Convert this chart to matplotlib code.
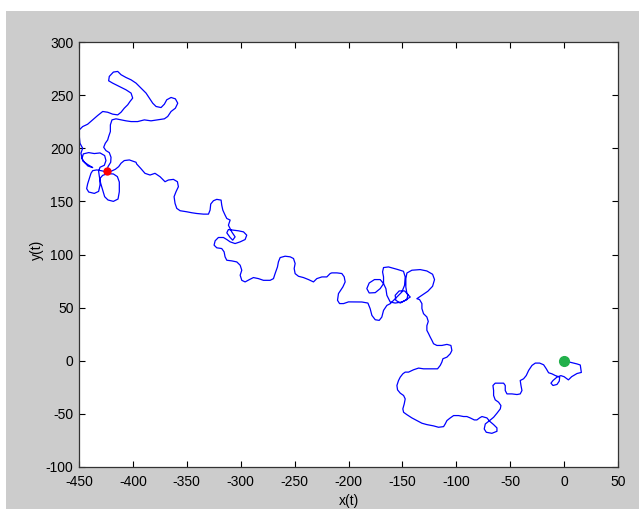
import matplotlib
matplotlib.use("Agg")
import matplotlib.pyplot as plt
from matplotlib.patches import Rectangle

plt.rcParams['font.family'] = ['Liberation Sans', 'DejaVu Sans']
plt.rcParams['axes.unicode_minus'] = False

# random walk trajectory (start = green, end = red)
x_t = [0, 12, 15, 16, 12, 7, 4, 0, -3,
       -6.6, -10.3, -12.2, -10.3, -6.6, -4.5, -4.1, -8.2,
       -11.3, -14.4, -16.5, -19, -22.7, -26.7, -29.8, -32.9, -35.1, -37.6, -40.7, -40, -39.1, -40.7,
       -43.7, -48.4, -53, -54.6, -54.6, -56.1, -60.8, -63.9, -66, -65.4, -65.4, -63.9, -60.8, -58.6,
       -59.2, -62.3, -65.4, -69.1, -73.1, -74.1, -72.2, -67, -62.3, -62.3, -65.4, -69.1, -71.6, -76.2,
       -78.4, -80.9, -83.3, -87.1, -90.2, -93.3, -97.9, -102.5, -105.6, -108.7, -110.3, -111.8, -116.5,
       -121.1, -127.3, -131.9, -136.6, -141.2, -145.9, -148.9, -149.6, -148.3, -147.4, -148.9, -152,
       -154.5, -155.1, -153.6, -152, -149.6, -147.4, -144.3, -139.7, -135, -130.4, -125.7, -121.1,
       -117.4, -114.9, -113.4, -112.4, -108.7, -105.6, -104.1, -105, -108.7, -113.4, -118, -121.1,
       -122.6, -124.2, -125.7, -127.3,
       -127.3, -126, -127.3, -130.4, -131.9, -131.9, -134.1, -136.6,
       -131.9, -126.4, -122, -120.2, -122, -127.3, -133.5, -141.2, -145.8, -146.8, -146.8, -145.8,
       -142.7, -147.4, -152, -156.1, -156.7, -153, -148, -144.9, -145.8, -150.5, -156.7, -161.3,
       -164.4, -165.3, -167.5, -170.6, -175.9, -180.8, -183, -180.8, -175.2, -170.6, -167.5, -167.5,
       -168.4, -167.5, -162.9, -155.1, -149, -147.4, -148, -150.5, -156.7, -161.3, -164.4, -167.5,
       -169.1, -171.5, -175.2, -178.3, -179.9, -182, -187.6, -193.8,
       -200, -204.6, -208.3, -210.2, -209.3, -205.2, -203.1, -204, -206.2, -210.8, -215.5, -217,
       -220.1, -224.7, -229.4, -232.5, -237.1, -241.8, -246.4, -249.5, -250.4, -249.5, -251, -254.1,
       -258.8, -263.4, -265, -265.9, -268.1, -269.6, -272.7, -278.9, -283.5, -288.2, -291.9, -295.9,
       -299, -300.5, -299, -300.5, -303.6, -308.3, -312.9, -314.5, -315.4, -317.6, -322.2, -324.7,
       -323.7, -320.7, -316, -312.9, -309.8, -305.2, -300.5, -295.9, -294.4, -297.4, -302.1, -306.7,
       -311.4, -312.9, -309.8, -307.4, -305.2, -308.3, -311.4, -309.8, -312.9, -314.5, -316.6, -317.6,
       -318.2, -322.2, -325.3, -327.8, -328.4, -329.9, -334.6, -340.8, -345.4, -350, -356.2, -359.3,
       -360.9, -361.8, -360, -357.8, -358.7, -362.4, -367.1, -370.2, -373.3, -374.8,
       -379.5, -384.1, -388.8, -392.8, -396.5,
       -397.1, -403.3, -408, -411, -413.2, -416.3, -420.3, -425.6, -429.6, -433.6, -437.3, -438.9,
       -440.4, -442, -442.9, -441, -435.8, -431.8, -430.5, -430.5, -428, -423.4, -418.1, -414.4,
       -412.6, -412.6, -413.8, -418.1, -423.1, -426.2, -428, -429.9, -431.1, -431.8, -430.5, -426.5,
       -425, -426.2, -430.5, -435.8, -441, -446, -447.2, -444.8, -441.7, -437.3, -441.7, -446.5,
       -448.2, -446.6, -449.1, -449.7, -449.7,
       -446.6, -442, -437.3, -432.7, -428, -423.4, -418.8, -414.1, -411, -408, -404.8, -402.7, -400.2,
       -401.7, -406.4, -412.6, -418.8, -422.5, -421.9, -418.1, -414.1, -411, -406.4, -401.7, -397.1,
       -394, -390.9, -387.8, -384.7, -381.6, -378.5, -373.9, -370.8, -368.6, -364.6, -360.6, -358.4,
       -360.6, -364.6, -367.7, -370.8, -377, -383.2, -389.4, -395.6, -401.7, -406.4, -411, -415.7,
       -419.4, -420.9, -420.9, -422.5, -423.4,
       -425.6, -427.1, -425, -421.9, -420.3, -420.6, -423.1, -424]

y_t = [0, -3, -4, -11, -12, -15, -18, -15, -14,
       -15.4, -18.6, -21.1, -23.3, -22.3, -19.2, -15.4, -13.9,
       -12.3, -11.3, -7.6, -3.8, -2.2, -2.2, -4.4, -9.1, -13.9, -17, -18.6, -23.3, -28, -31.2,
       -31.8, -31.2, -31.2, -28, -23.3, -21.1, -21.1, -21.1, -23.3, -28, -32.7, -36.8, -39, -42.2,
       -45.3, -49.4, -53.2, -56.3, -59.5, -64.2, -67.3, -68.3, -66.4, -63.2, -60.1, -56.9, -53.8, -52.5,
       -53.8, -55.7, -55.7, -53.8, -52.5, -52.5, -51.6, -51.6, -53.8, -56.3, -59.5, -62, -62.6,
       -61.3, -60.1, -58.8, -56.3, -53.8, -50.7, -48.5, -45.3, -40.6, -35.9, -32.7, -30.5,
       -27.4, -23.3, -18.6, -15.4, -12.3, -10.7, -10.7, -8.5, -6.9, -7.6, -7.6, -7.6,
       -7.6, -4.4, -1.3, 1.9, 3.4, 6.6, 9.7, 14.4, 15.4, 14.4, 14.4, 16,
       19.2, 22.3, 25.5, 28.6,
       33, 37, 41.2, 44.3, 49.1, 53.8, 57.6, 58.4,
       61.6, 65.4, 70.1, 76.4, 81.4, 84.5, 85.8, 85.2, 82.6, 77.3, 69.4, 63.1,
       60, 56.9, 54.3, 56.9, 61.6, 65.7, 65.7, 62.5, 57.5, 55.3, 54.3, 55.3,
       61.6, 67.9, 72.6, 76.4, 76.4, 73.2, 67.9, 63.8, 64.1, 67.9, 72.6, 78.9,
       83.6, 87.7, 88.3, 86.1, 84.2, 78.9, 71, 64.7, 58.4, 53.7, 52.1, 47.4,
       41.1, 38, 38.6, 42.7, 49, 54.3, 55.3, 55.3,
       55.4, 53.8, 53.8, 56.9, 63.2, 69.5, 74.2, 79, 82.1, 82.7, 82.7, 82.1,
       78.9, 78.9, 77.3, 74.2, 76.4, 78.3, 79.5, 82, 86.8, 91.5, 96.2, 97.8,
       98.4, 97.1, 93.1, 88.3, 82, 77.3, 75.7, 75.7, 77.3, 78.3, 76.4, 74.2,
       75.7, 80.5, 85.2, 89.9, 93, 94, 94.6, 97.8, 102.5, 105.6, 106.3, 108.8,
       112.9, 116, 116, 114.1, 111.9, 110.3, 111.9, 114.1, 118.2, 121.3, 122.3, 122.9,
       123.5, 120.4, 116, 113.5, 116.6, 121.3, 127.6, 132.4, 133.9, 137.1, 141.8, 146.5,
       151.2, 151.9, 150.6, 147.5, 141.8, 138, 138, 138.6, 139.3, 140.2, 141.2, 143.4,
       148.1, 154.4, 159.1, 163.8, 168.5, 170.7, 170.1, 168.5, 171.7, 173.2,
       176.4, 174.8, 176.4, 181.1, 185.2,
       186.8, 189, 188.4, 185.9, 182.7, 180.2, 178.3, 178, 178.9, 179.6, 178.9, 176.4,
       171.7, 166.4, 162, 158.8, 157.5, 159.4, 165.4, 171.7, 174.5, 176.1, 175.8, 173.3,
       168.2, 159.1, 152.2, 150, 151.3, 154.4, 160.7, 167, 173.3, 178.3, 182.1, 184,
       188.4, 193.1, 195.6, 195, 195.9, 194.7, 190.3, 186.5, 183.3, 181.8, 184.5, 188,
       195.3, 200, 204.7, 211, 217.3,
       220.4, 222.6, 226.7, 230.8, 234.6, 233.9, 232.1, 231.4, 233.9, 237.7, 240.9, 244, 247.2,
       251.9, 255, 258.2, 261.3, 263.5, 267.6, 271.7, 272.3, 269.2, 266.6, 264.4, 261.3,
       258.2, 255, 251.9, 247.2, 242.4, 239.3, 238.3, 241.5, 245.6, 247.8, 246.5, 242.4,
       237.7, 234.6, 229.9, 227.7, 226.7, 225.8, 226.7, 225.1, 225.1, 225.8, 226.7, 227.7,
       226.7, 222, 215.7, 211, 207.8,
       204.7, 200.9, 197.8, 195.9, 191.5, 186.8, 182.7, 178.9]

x_ticks = list(range(-450, 51, 50))
y_ticks = list(range(-100, 301, 50))

fig = plt.figure(figsize=(6.39, 5.09), dpi=100, facecolor='white')
# grey MATLAB figure window (screenshot has a thin white margin top/left)
fig.patches.append(Rectangle((6 / 639, 0), 1, 1 - 11 / 509, transform=fig.transFigure,
                             facecolor='#cccccc', edgecolor='none', zorder=-10))

ax = fig.add_axes([79 / 639, 1 - 467 / 509, 539 / 639, 425 / 509])
ax.set_facecolor('white')

ax.plot(x_t, y_t, color='#0000ff', lw=0.9)
ax.plot(x_t[0], y_t[0], 'o', color='#22b04b', ms=7, mec='#22b04b')
ax.plot(x_t[-1], y_t[-1], 'o', color='#ff0000', ms=5, mec='#ff0000')

ax.set_xlim(-450, 50)
ax.set_ylim(-100, 300)
ax.set_xticks(x_ticks)
ax.set_yticks(y_ticks)
ax.tick_params(direction='in', top=True, right=True, length=4, width=0.8,
               labelsize=10, colors='black')
ax.tick_params(axis='x', pad=6)
ax.tick_params(axis='y', pad=4)
for s in ax.spines.values():
    s.set_color('#333333')
    s.set_linewidth(0.9)

ax.set_xlabel('x(t)', fontsize=10)
ax.set_ylabel('y(t)', fontsize=10)
ax.xaxis.set_label_coords(0.5, -0.064)
ax.yaxis.set_label_coords(-0.066, 0.51)

fig.savefig('out.png', dpi=100, facecolor=fig.get_facecolor())
